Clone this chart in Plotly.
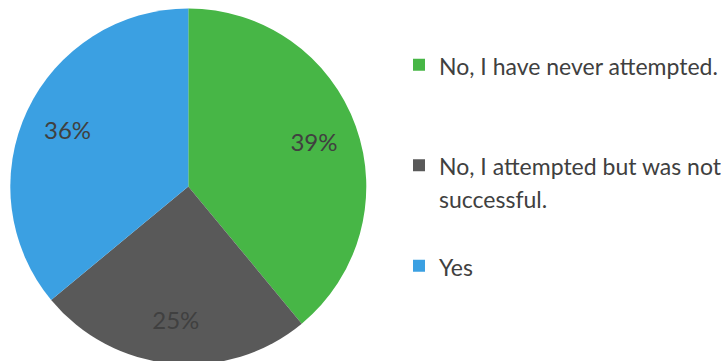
import plotly.graph_objects as go

# Survey answers and their shares (percent)
answers = [
    "No, I have never attempted.",
    "No, I attempted but was not<br>successful.",
    "Yes",
]
shares = [39, 25, 36]
colors = ["#47B646", "#595959", "#3BA0E2"]

W, H = 745, 373
FONT = "Lato"
TEXT = "#404040"


def sized(s, px=23):
    return "<br>".join(f'<span style="font-size:{px}px">{part}</span>' for part in s.split("<br>"))


# blank lines after each answer open up the vertical gap between legend entries
legend_labels = [sized(answers[0]) + "<br> <br> ", sized(answers[1]) + "<br> ", sized(answers[2])]

pie_domain = dict(x=[10.3 / W, 366.3 / W], y=[0, 1])

fig = go.Figure()

# coloured slices with the legend
fig.add_trace(
    go.Pie(
        labels=legend_labels,
        values=shares,
        marker=dict(colors=colors, line=dict(width=0)),
        sort=False,
        direction="clockwise",
        rotation=0,
        textinfo="none",
        domain=pie_domain,
        hoverinfo="skip",
    )
)

# transparent ring on top carrying the percentage labels toward the rim
fig.add_trace(
    go.Pie(
        labels=legend_labels,
        values=shares,
        hole=0.5,
        marker=dict(colors=["rgba(0,0,0,0)"] * 3, line=dict(width=0)),
        sort=False,
        direction="clockwise",
        rotation=0,
        texttemplate="%{percent:.0%}",
        textposition="inside",
        insidetextorientation="horizontal",
        textfont=dict(family=FONT, size=24, color=TEXT),
        domain=pie_domain,
        showlegend=False,
        hoverinfo="percent",
    )
)

fig.update_layout(
    width=W,
    height=H,
    margin=dict(l=0, r=0, t=0, b=0),
    paper_bgcolor="white",
    plot_bgcolor="white",
    showlegend=True,
    legend=dict(
        x=399 / W,
        xanchor="left",
        y=1 - 42 / H,
        yanchor="top",
        valign="top",
        font=dict(family=FONT, size=25, color=TEXT),
        bgcolor="rgba(0,0,0,0)",
        traceorder="normal",
    ),
)

fig.write_html("out.html")
